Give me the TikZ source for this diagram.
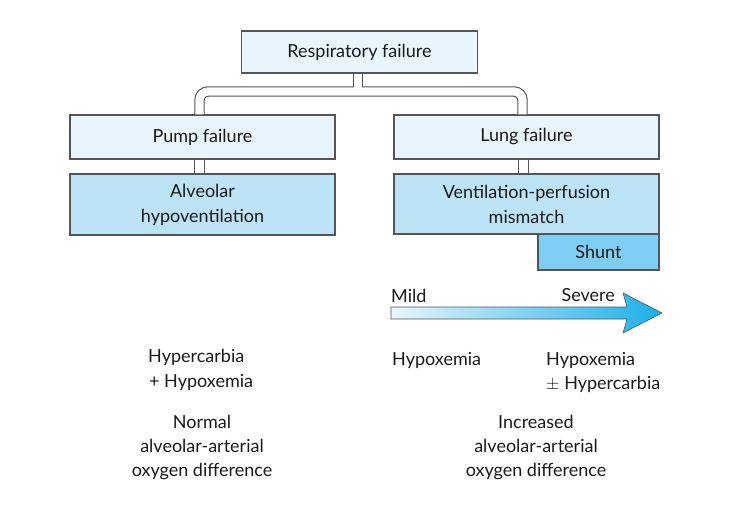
\documentclass[tikz,border=0pt]{standalone}
\usepackage{fontspec}
\setmainfont{Lato}
\usetikzlibrary{shapes.geometric}
\definecolor{boxlight}{HTML}{E8F5FC}
\definecolor{boxmid}{HTML}{BDE3F7}
\definecolor{boxdark}{HTML}{7ECDF2}
\definecolor{edgegray}{HTML}{555555}
\definecolor{txt}{HTML}{1A1A1A}
\definecolor{arrowL}{HTML}{E8F5FC}
\definecolor{arrowR}{HTML}{1AAFE8}
\tikzset{
  box/.style={draw=edgegray, line width=1.1pt, text=txt, inner sep=0pt, align=center, font=\fontsize{18}{25}\selectfont},
  lightbox/.style={box, fill=boxlight},
  midbox/.style={box, fill=boxmid},
  darkbox/.style={box, fill=boxdark},
  lbl/.style={text=txt, inner sep=0pt, font=\fontsize{18}{24}\selectfont},
  pipeout/.style={draw=edgegray, line width=10.4pt, rounded corners=8.5pt},
  pipein/.style={draw=white, line width=8.2pt, rounded corners=8.5pt}
}
\begin{document}
\begin{tikzpicture}[x=1pt,y=-1pt]
\useasboundingbox (0,0) rectangle (747,509);
% boxes
\node[lightbox, minimum width=236pt, minimum height=42pt] (resp) at (359.5,52) {Respiratory failure};
\node[lightbox, minimum width=265pt, minimum height=44pt] (pump) at (202.5,137) {Pump failure};
\node[midbox, minimum width=265pt, minimum height=61pt] (alv) at (202.5,204.5) {Alveolar\\hypoventilation};
\node[lightbox, minimum width=265pt, minimum height=44pt] (lung) at (526.5,137) {Lung failure};
\node[darkbox, minimum width=121pt, minimum height=36pt] (shunt) at (598.5,252) {Shunt};
\node[midbox, minimum width=265pt, minimum height=60pt] (vq) at (526.5,204) {Ventilation-perfusion\\mismatch};
% pipes
\coordinate (junc) at (358,91.5);
\foreach \st in {pipeout,pipein}{
  \draw[\st] (resp.south -| junc) -- (junc);
  \draw[\st] (pump.north -| 199.5,0) -- (199.5,91.5) -- (522.5,91.5) -- (lung.north -| 522.5,0);
  \draw[\st] (pump.south -| 199.5,0) -- (alv.north -| 199.5,0);
  \draw[\st] (lung.south -| 523.5,0) -- (vq.north -| 523.5,0);
}
% severity arrow
\coordinate (arrS) at (391,313);
\coordinate (arrE) at (662,313);
\shade[left color=arrowL, right color=arrowR, draw=edgegray, line width=0.6pt]
  (arrS) ++(0,-6) -- (627,307) -- (623,293) -- (arrE) -- (623,333) -- (627,319) -- (391,319) -- cycle;
\node[lbl, anchor=west] (mild) at (391,296) {Mild};
\node[lbl, anchor=east] (severe) at (615,295) {Severe};
% outcome labels
\node[lbl, anchor=west] (hc1) at (148,357) {Hypercarbia};
\node[lbl, anchor=west] (hc2) at (149,382) {+ Hypoxemia};
\node[lbl, align=center] (norm) at (202,448) {Normal\\alveolar-arterial\\oxygen difference};
\node[lbl, anchor=west] (hyp1) at (392,360) {Hypoxemia};
\node[lbl, anchor=west] (hyp2) at (546,360) {Hypoxemia};
\node[lbl, anchor=west] (hyp3) at (546,384) {$\pm$ Hypercarbia};
\node[lbl, align=center] (incr) at (536,448) {Increased\\alveolar-arterial\\oxygen difference};
\end{tikzpicture}
\end{document}
